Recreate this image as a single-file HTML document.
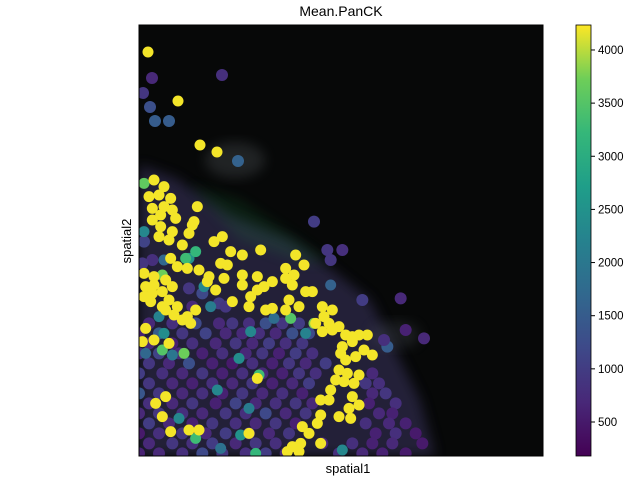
<!DOCTYPE html>
<html><head><meta charset="utf-8">
<style>
body{margin:0;background:#fff;}
svg{display:block;font-family:"Liberation Sans",sans-serif;}
</style></head>
<body>
<svg id="chart" width="640" height="480" viewBox="0 0 640 480">
<defs>
<linearGradient id="cbar" x1="0" y1="1" x2="0" y2="0">
<stop offset="0" stop-color="#440154"/><stop offset="0.125" stop-color="#482878"/>
<stop offset="0.25" stop-color="#3e4989"/><stop offset="0.375" stop-color="#31688e"/>
<stop offset="0.5" stop-color="#26828e"/><stop offset="0.625" stop-color="#1f9e89"/>
<stop offset="0.75" stop-color="#35b779"/><stop offset="0.875" stop-color="#6ece58"/>
<stop offset="1" stop-color="#fde725"/>
</linearGradient>
<filter id="blur" x="-20%" y="-20%" width="140%" height="140%"><feGaussianBlur stdDeviation="6"/></filter>
<clipPath id="plotclip"><rect x="139" y="25" width="404" height="431"/></clipPath>
</defs>
<text x="341" y="16" text-anchor="middle" font-size="14">Mean.PanCK</text>
<rect x="139" y="25" width="404" height="431" fill="#070808"/>
<g clip-path="url(#plotclip)">
<polygon points="139,165 175,178 230,215 290,240 330,268 370,300 395,350 420,400 435,456 139,456" fill="#3a3560" opacity="0.55" filter="url(#blur)"/>
<polygon points="190,185 240,200 300,240 330,262 300,262 240,240" fill="#1f7a3a" opacity="0.2" filter="url(#blur)"/>
<ellipse cx="235" cy="160" rx="30" ry="18" fill="#5c6266" opacity="0.3" filter="url(#blur)"/>
<ellipse cx="395" cy="335" rx="25" ry="14" fill="#4a4f58" opacity="0.3" filter="url(#blur)"/>
</g>
<g id="points" clip-path="url(#plotclip)"></g>
<rect x="139" y="25" width="404" height="431" fill="none" stroke="#000" stroke-width="1"/>
<text x="348" y="473" text-anchor="middle" font-size="13">spatial1</text>
<text x="131" y="241" text-anchor="middle" font-size="13" transform="rotate(-90 131 241)">spatial2</text>
<rect x="576" y="25" width="15" height="431" fill="url(#cbar)" stroke="#000" stroke-width="0.8"/>
<g id="cticks"></g>
</svg>
<script>
// cells as [x, y, value] triples in spatial units
const purpleCells=[
39,-246,700, 12,-201,900, 33,-159,1300, 48,-117,1500, 90,-117,1500, 249,-255,800, 297,3,1600,
525,185,1000, 565,270,900, 610,270,800, 575,300,900, 670,420,1000, 785,415,700, 800,510,600, 855,535,700, 745,560,1500, 735,540,800,
15,245,1100, 40,300,800, 10,310,900, 150,385,900, 190,400,1200, 240,430,1000, 260,440,900, 160,440,700,
30,490,700, 100,490,800, 170,490,1200, 240,490,700, 280,490,900, 330,490,800, 380,490,1300, 430,490,900, 480,490,1000,
0,520,600, 60,520,1500, 130,520,900, 200,520,1100, 260,520,700, 310,520,700, 360,520,800, 410,520,700, 460,520,1300, 510,520,1200,
30,550,700, 100,550,600, 160,550,800, 230,550,700, 290,550,900, 340,550,700, 390,550,1000, 440,550,800, 490,550,900,
0,580,800, 60,580,1100, 120,580,700, 190,580,600, 250,580,800, 320,580,700, 370,580,900, 420,580,600, 470,580,1000, 520,580,800,
30,610,900, 90,610,700, 150,610,1300, 220,610,600, 280,610,500, 340,610,800, 400,610,600, 450,610,900, 500,610,700, 560,610,1000,
0,640,1000, 70,640,800, 130,640,700, 190,640,900, 250,640,600, 310,640,800, 370,640,700, 430,640,600, 480,640,900, 530,640,800, 700,640,700,
30,670,900, 100,670,700, 160,670,600, 220,670,800, 280,670,700, 340,670,900, 400,670,600, 460,670,700, 510,670,1000, 680,670,900, 720,670,800,
0,700,1400, 60,700,900, 130,700,700, 190,700,800, 250,700,600, 310,700,900, 370,700,700, 430,700,800, 490,700,600, 700,700,700, 740,700,900,
30,730,800, 100,730,700, 160,730,900, 230,730,600, 290,730,1100, 350,730,700, 410,730,800, 470,730,900, 520,730,700, 690,730,600, 770,730,800,
0,760,700, 60,760,900, 130,760,800, 190,760,700, 260,760,900, 320,760,800, 380,760,1200, 440,760,700, 500,760,900, 720,760,700, 760,760,600,
30,790,1000, 90,790,700, 160,790,600, 220,790,900, 290,790,800, 350,790,700, 410,790,900, 470,790,600, 680,790,800, 750,790,700, 800,790,600,
0,820,500, 60,820,800, 130,820,900, 200,820,700, 260,820,1000, 330,820,800, 390,820,700, 450,820,900, 710,820,600, 770,820,800, 830,820,500,
30,850,700, 100,850,900, 160,850,800, 220,850,1000, 290,850,700, 350,850,900, 410,850,800, 550,850,700, 640,850,800, 700,850,600, 760,850,700, 850,850,500,
0,880,600, 60,880,700, 130,880,800, 190,880,1200, 250,880,900, 320,880,800, 380,880,1000, 440,880,700, 600,880,800, 670,880,700, 730,880,600, 800,880,500
];
const tealCells=[
15,215,2300, 150,295,2500, 75,300,1700, 195,380,2300, 215,440,2100, 60,470,2200, 75,520,2400, 20,580,1700, 335,515,2300, 300,595,2400,
235,690,2300, 120,775,2300, 305,825,2500, 245,865,1900, 575,375,1600, 610,870,2300, 405,475,1800, 100,585,2000, 330,745,2100, 500,520,2200
];
const greenCells=[
15,70,3600, 170,275,3200, 140,295,3300, 70,345,3700, 455,475,3500, 525,490,3800, 135,580,3700, 70,570,3500, 360,645,3300, 170,835,3300, 350,880,3200
];
const yellowCells=[
27,-324,4200, 117,-177,4200, 183,-45,4200, 234,-24,4200,
45,60,4200, 75,80,4200, 30,110,4200, 60,105,4200, 95,115,4200, 40,145,4200, 75,140,4200, 100,150,4200, 40,180,4200, 65,165,4200,
110,175,4200, 65,200,4200, 100,215,4200, 160,195,4200, 165,185,4200, 175,140,4200, 150,220,4200, 60,230,4200, 90,240,4200, 130,255,4200,
225,245,4200, 250,230,4200, 275,275,4200, 310,285,4200, 365,270,4200, 470,285,4200, 495,315,4200, 440,325,4200, 465,345,4200, 210,350,4200,
245,310,4200, 265,315,4200, 180,330,4200, 145,325,4200, 115,320,4200, 95,295,4200, 15,340,4200, 45,350,4200, 20,380,4200, 45,375,4200,
80,360,4200, 15,410,4200, 40,400,4200, 70,395,4200, 100,380,4200, 90,420,4200, 115,440,4200, 80,450,4200, 105,465,4200, 130,480,4200,
145,470,4200, 155,490,4200, 20,505,4200, 45,540,4200, 10,545,4200, 90,550,4200, 35,425,4200, 70,440,4200, 170,450,4200, 205,365,4200,
230,390,4200, 255,355,4200, 280,425,4200, 310,345,4200, 310,375,4200, 335,410,4200, 355,390,4200, 355,350,4200, 375,380,4200, 400,365,4200,
440,355,4200, 460,375,4200, 450,420,4200, 480,440,4200, 500,395,4200, 520,395,4200, 440,450,4200, 380,450,4200, 330,440,4200, 400,445,4200,
550,440,4200, 580,450,4200, 555,470,4200, 570,490,4200, 600,500,4200, 620,525,4200, 640,530,4200, 660,525,4200, 685,525,4200, 610,560,4200,
640,545,4200, 675,570,4200, 700,585,4200, 605,580,4200, 620,600,4200, 650,590,4200, 600,630,4200, 625,640,4200, 660,645,4200, 590,660,4200,
615,665,4200, 645,670,4200, 575,690,4200, 640,710,4200, 660,735,4200, 545,720,4200, 570,720,4200, 630,745,4200, 635,775,4200, 545,765,4200,
535,790,4200, 600,770,4200, 490,800,4200, 510,820,4200, 485,850,4200, 545,850,4200, 460,860,4200, 480,875,4200, 445,875,4200, 355,655,4200,
330,820,4200, 150,810,4200, 180,810,4200, 95,815,4200, 70,770,4200, 50,730,4200, 80,710,4200, 530,490,4200, 580,510,4200, 550,515,4200
];
const cticks=[500,1000,1500,2000,2500,3000,3500,4000];
const vmin=180,vmax=4235;
const XMIN=0,XMAX=1212,YMIN=-405,YMAX=888;
const X0=139,Y0=25,W=404,H=431;
const sx=v=>X0+(v-XMIN)/(XMAX-XMIN)*W, sy=v=>Y0+(v-YMIN)/(YMAX-YMIN)*H;
const cy=v=>456-(v-vmin)/(vmax-vmin)*431;
const stops=["#440154","#482878","#3e4989","#31688e","#26828e","#1f9e89","#35b779","#6ece58","#fde725"];
function hex(h){return [1,3,5].map(i=>parseInt(h.substr(i,2),16));}
function cmap(v){let t=Math.max(0,Math.min(1,(v-vmin)/(vmax-vmin)))*8;let i=Math.min(7,Math.floor(t));let f=t-i;let a=hex(stops[i]),b=hex(stops[i+1]);return "rgb("+a.map((c,k)=>Math.round(c+(b[k]-c)*f)).join(",")+")";}
const NS="http://www.w3.org/2000/svg";
const g=document.getElementById("points");
function draw(arr,r){
 for(let i=0;i<arr.length;i+=3){
  const c=document.createElementNS(NS,"circle");
  c.setAttribute("cx",sx(arr[i]));c.setAttribute("cy",sy(arr[i+1]));c.setAttribute("r",r);
  c.setAttribute("fill",cmap(arr[i+2]));
  
  
  g.appendChild(c);
 }
}
draw(purpleCells,6);draw(tealCells,5.5);draw(greenCells,5.5);draw(yellowCells,5.5);
const ct=document.getElementById("cticks");
for(const t of cticks){
 const y=cy(t);
 const l=document.createElementNS(NS,"line");
 l.setAttribute("x1",591);l.setAttribute("x2",595);l.setAttribute("y1",y);l.setAttribute("y2",y);l.setAttribute("stroke","#000");
 
 
 ct.appendChild(l);
 const tx=document.createElementNS(NS,"text");
 tx.setAttribute("x",598);tx.setAttribute("y",y+4);tx.setAttribute("font-size","11.5");
 tx.textContent=t;
 
 
 ct.appendChild(tx);
}
</script>
</body></html>
